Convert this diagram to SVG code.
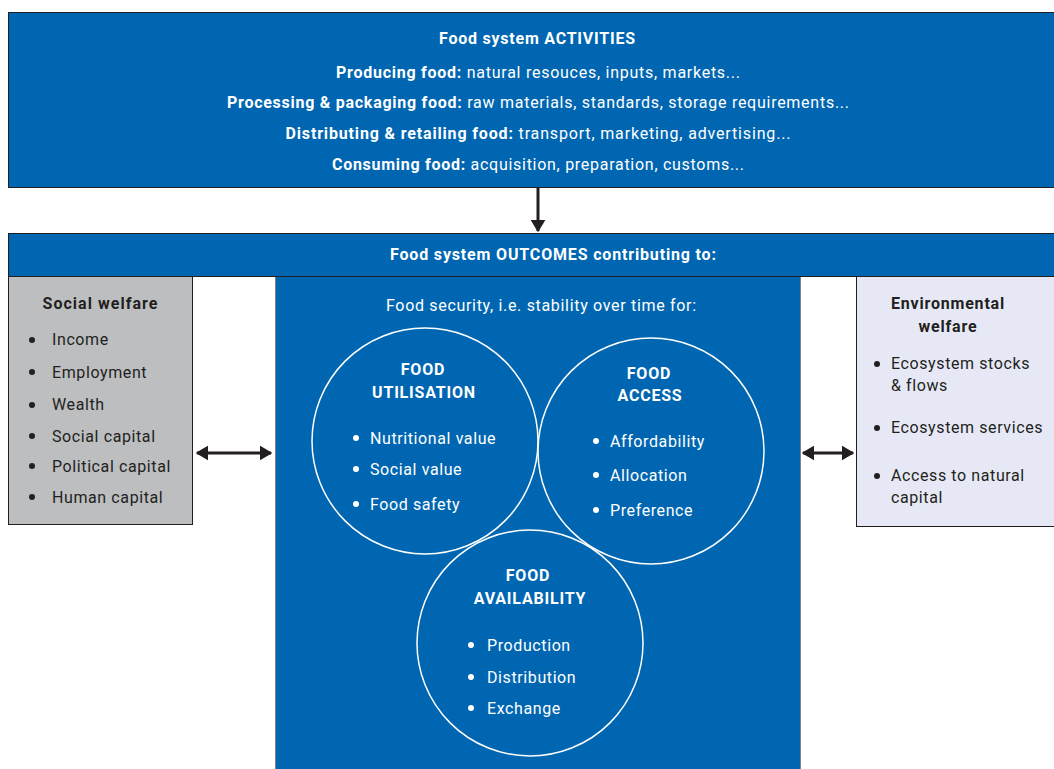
<svg xmlns="http://www.w3.org/2000/svg" width="1054" height="769" viewBox="0 0 1054 769">
<style>
text{font-family:Roboto,"Liberation Sans",sans-serif;font-size:16px}
.w{fill:#fff}
.d{fill:#231f20}
.b{font-weight:bold}
.c{text-anchor:middle}
.ls{letter-spacing:0.6px}
.lb{letter-spacing:0.8px}
.blue{fill:#0066b1}
.circ{fill:none;stroke:#fff;stroke-width:1.5}
.conn{stroke:#231f20;stroke-width:3;fill:none}
</style>
<defs>
<marker id="ah" viewBox="0 0 10 12" refX="9" refY="6" markerWidth="4.2" markerHeight="5" orient="auto-start-reverse" markerUnits="strokeWidth">
<path d="M0,0 L10,6 L0,12 z" fill="#231f20"/>
</marker>
</defs>
<rect width="1054" height="769" fill="#fff"/>
<g id="activities">
<rect x="8.5" y="12.5" width="1050" height="175" class="blue" stroke="#231f20" stroke-width="1"/>
<text x="537" y="44" class="w b c" textLength="196">Food system ACTIVITIES</text>
<text x="538" y="78" class="w c" textLength="404"><tspan class="b">Producing food:</tspan> natural resouces, inputs, markets...</text>
<text x="538" y="108" class="w c" textLength="622"><tspan class="b">Processing &amp; packaging food:</tspan> raw materials, standards, storage requirements...</text>
<text x="538" y="139" class="w c" textLength="505"><tspan class="b">Distributing &amp; retailing food:</tspan> transport, marketing, advertising...</text>
<text x="538" y="170" class="w c" textLength="412"><tspan class="b">Consuming food:</tspan> acquisition, preparation, customs...</text>
</g>
<g id="outcomes">
<rect x="275.5" y="276" width="525" height="500" class="blue" stroke="#808285" stroke-width="1"/>
<rect x="8.5" y="233.5" width="1050" height="43" class="blue" stroke="#231f20" stroke-width="1"/>
<text x="553" y="260" class="w b c" textLength="326">Food system OUTCOMES contributing to:</text>
<text x="541" y="311" class="w c" textLength="310">Food security, i.e. stability over time for:</text>
</g>
<g id="social-welfare">
<rect x="8.5" y="276.5" width="184" height="248" fill="#bcbec0" stroke="#231f20" stroke-width="1"/>
<text x="100" y="309" class="d b c" textLength="115">Social welfare</text>
<g class="d ls">
<circle cx="32" cy="340" r="3"/><text x="52" y="345">Income</text>
<circle cx="32" cy="372" r="3"/><text x="52" y="378">Employment</text>
<circle cx="32" cy="405" r="3"/><text x="52" y="410">Wealth</text>
<circle cx="32" cy="436" r="3"/><text x="52" y="442">Social capital</text>
<circle cx="32" cy="466" r="3"/><text x="52" y="472">Political capital</text>
<circle cx="32" cy="497" r="3"/><text x="52" y="503">Human capital</text>
</g>
</g>
<g id="environmental-welfare">
<rect x="856.5" y="276.5" width="200" height="250" fill="#e6e9f5" stroke="#231f20" stroke-width="1"/>
<text x="948" y="309" class="d b c lb">Environmental</text>
<text x="948" y="332" class="d b c lb">welfare</text>
<g class="d ls">
<circle cx="877" cy="364" r="3"/><text x="891" y="369">Ecosystem stocks</text>
<text x="891" y="391">&amp; flows</text>
<circle cx="877" cy="428" r="3"/><text x="891" y="433">Ecosystem services</text>
<circle cx="877" cy="476" r="3"/><text x="891" y="481">Access to natural</text>
<text x="891" y="503">capital</text>
</g>
</g>
<g id="food-utilisation">
<circle cx="425" cy="441" r="113" class="circ"/>
<text x="423" y="375" class="w b c lb">FOOD</text>
<text x="424" y="398" class="w b c lb">UTILISATION</text>
<g class="w ls">
<circle cx="356" cy="438" r="3"/><text x="370" y="444">Nutritional value</text>
<circle cx="356" cy="469" r="3"/><text x="370" y="475">Social value</text>
<circle cx="356" cy="504" r="3"/><text x="370" y="510">Food safety</text>
</g>
</g>
<g id="food-access">
<circle cx="651" cy="451" r="113" class="circ"/>
<text x="649" y="379" class="w b c lb">FOOD</text>
<text x="650" y="401" class="w b c lb">ACCESS</text>
<g class="w ls">
<circle cx="596" cy="441" r="3"/><text x="610" y="447">Affordability</text>
<circle cx="596" cy="475" r="3"/><text x="610" y="481">Allocation</text>
<circle cx="596" cy="510" r="3"/><text x="610" y="516">Preference</text>
</g>
</g>
<g id="food-availability">
<circle cx="530" cy="643" r="113" class="circ"/>
<text x="528" y="581" class="w b c lb">FOOD</text>
<text x="530" y="604" class="w b c lb">AVAILABILITY</text>
<g class="w ls">
<circle cx="471" cy="645" r="3"/><text x="487" y="651">Production</text>
<circle cx="471" cy="677" r="3"/><text x="487" y="683">Distribution</text>
<circle cx="471" cy="708" r="3"/><text x="487" y="714">Exchange</text>
</g>
</g>
<g id="connectors">
<line x1="538" y1="188" x2="538" y2="231" class="conn" marker-end="url(#ah)"/>
<line x1="197" y1="453" x2="271" y2="453" class="conn" marker-start="url(#ah)" marker-end="url(#ah)"/>
<line x1="803" y1="453" x2="853" y2="453" class="conn" marker-start="url(#ah)" marker-end="url(#ah)"/>
</g>
</svg>
